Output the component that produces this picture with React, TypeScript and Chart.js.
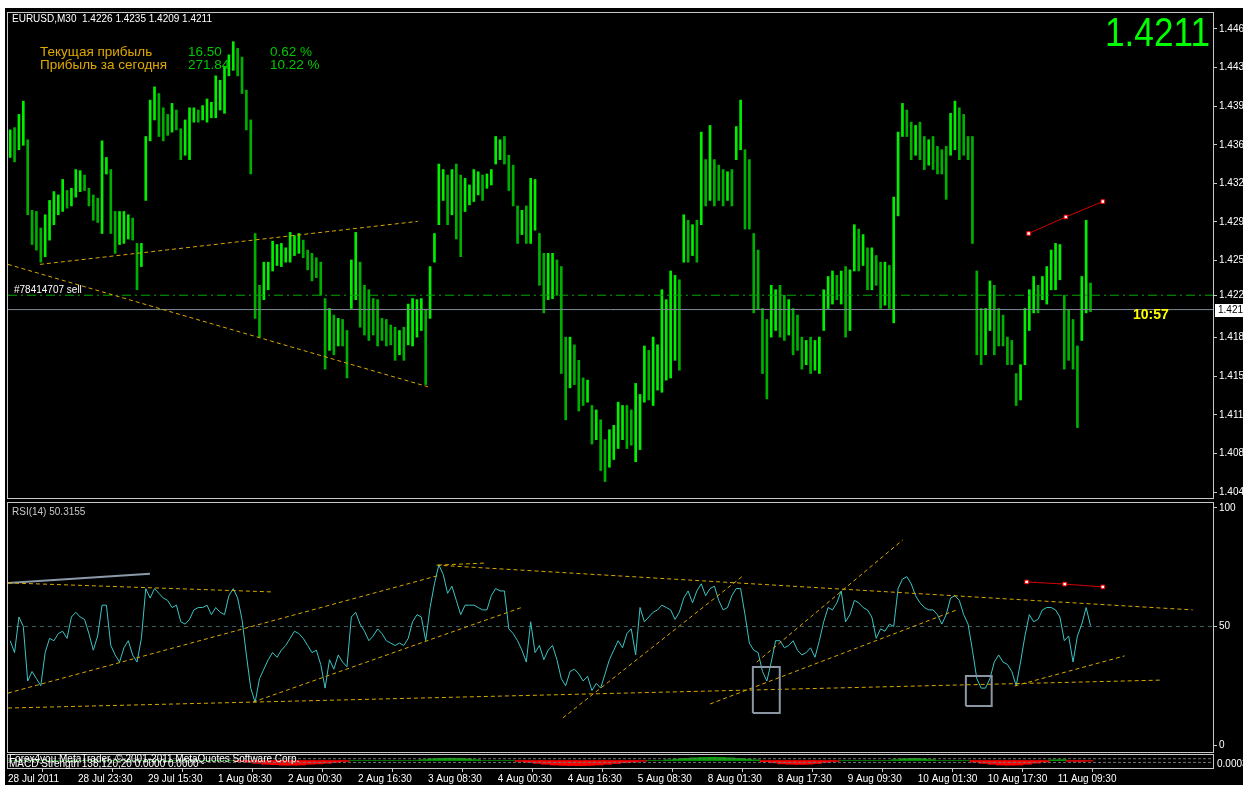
import React, { useEffect, useRef } from "react";
import { Chart, registerables } from "chart.js";
Chart.register(...registerables);

// ---------------- DATA ----------------
// EURUSD M30 bars (sampled every 2nd bar): highs and lows
const barHigh = [
  1.4374,1.4376,1.4388,1.4400,1.4365,1.4301,1.4300,1.4285,1.4297,1.4310,
  1.4318,1.4315,1.4329,1.4319,1.4321,1.4338,1.4337,1.4333,1.4321,1.4315,
  1.4312,1.4364,1.4349,1.4338,1.4300,1.4300,1.4300,1.4297,1.4294,1.4271,
  1.4271,1.4368,1.4401,1.4413,1.4407,1.4394,1.4388,1.4398,1.4392,1.4375,
  1.4383,1.4394,1.4394,1.4392,1.4396,1.4402,1.4399,1.4423,1.4419,1.4431,
  1.4442,1.4454,1.4448,1.4440,1.4410,1.4383,1.4280,1.4233,1.4254,1.4254,
  1.4273,1.4270,1.4271,1.4267,1.4281,1.4278,1.4280,1.4274,1.4265,1.4262,
  1.4258,1.4254,1.4221,1.4212,1.4206,1.4203,1.4202,1.4192,1.4256,1.4281,
  1.4254,1.4233,1.4229,1.4221,1.4220,1.4203,1.4202,1.4197,1.4195,1.4192,
  1.4195,1.4216,1.4221,1.4220,1.4221,1.4211,1.4250,1.4280,1.4343,1.4338,
  1.4333,1.4338,1.4343,1.4333,1.4330,1.4324,1.4338,1.4336,1.4333,1.4334,
  1.4338,1.4368,1.4365,1.4368,1.4351,1.4342,1.4305,1.4301,1.4305,1.4330,
  1.4329,1.4280,1.4262,1.4262,1.4262,1.4256,1.4250,1.4186,1.4186,1.4179,
  1.4165,1.4149,1.4147,1.4124,1.4120,1.4111,1.4093,1.4102,1.4106,1.4127,
  1.4124,1.4124,1.4120,1.4144,1.4134,1.4178,1.4174,1.4186,1.4179,1.4229,
  1.4220,1.4246,1.4242,1.4238,1.4297,1.4292,1.4288,1.4292,1.4372,1.4347,
  1.4378,1.4347,1.4342,1.4338,1.4336,1.4338,1.4377,1.4401,1.4356,1.4347,
  1.4280,1.4265,1.4212,1.4202,1.4233,1.4229,1.4233,1.4224,1.4220,1.4212,
  1.4206,1.4186,1.4183,1.4186,1.4183,1.4186,1.4229,1.4241,1.4246,1.4242,
  1.4246,1.4250,1.4247,1.4288,1.4284,1.4279,1.4267,1.4267,1.4260,1.4254,
  1.4254,1.4251,1.4313,1.4372,1.4398,1.4392,1.4381,1.4378,1.4381,1.4368,
  1.4365,1.4368,1.4359,1.4356,1.4359,1.4389,1.4400,1.4394,1.4388,1.4368,
  1.4368,1.4246,1.4212,1.4212,1.4237,1.4233,1.4212,1.4206,1.4186,1.4183,
  1.4153,1.4161,1.4212,1.4229,1.4241,1.4233,1.4241,1.4250,1.4265,1.4271,
  1.4270,1.4224,1.4211,1.4202,1.4178,1.4241,1.4292,1.4235,
];
const barLow = [
  1.4349,1.4345,1.4356,1.4360,1.4297,1.4270,1.4265,1.4254,1.4259,1.4274,
  1.4288,1.4297,1.4300,1.4303,1.4305,1.4313,1.4318,1.4319,1.4305,1.4292,
  1.4290,1.4280,1.4334,1.4280,1.4262,1.4270,1.4271,1.4275,1.4274,1.4229,
  1.4250,1.4310,1.4364,1.4383,1.4368,1.4364,1.4369,1.4372,1.4374,1.4347,
  1.4351,1.4347,1.4381,1.4381,1.4383,1.4381,1.4385,1.4385,1.4392,1.4389,
  1.4423,1.4428,1.4423,1.4407,1.4374,1.4334,1.4203,1.4186,1.4220,1.4229,
  1.4246,1.4251,1.4250,1.4254,1.4254,1.4260,1.4262,1.4258,1.4247,1.4237,
  1.4240,1.4224,1.4157,1.4174,1.4170,1.4178,1.4178,1.4149,1.4212,1.4220,
  1.4195,1.4188,1.4183,1.4188,1.4178,1.4183,1.4178,1.4179,1.4165,1.4170,
  1.4165,1.4179,1.4178,1.4186,1.4192,1.4143,1.4203,1.4254,1.4288,1.4310,
  1.4288,1.4297,1.4275,1.4259,1.4300,1.4306,1.4309,1.4315,1.4310,1.4321,
  1.4324,1.4343,1.4347,1.4343,1.4319,1.4305,1.4271,1.4279,1.4271,1.4271,
  1.4283,1.4233,1.4208,1.4220,1.4221,1.4224,1.4153,1.4111,1.4140,1.4143,
  1.4119,1.4124,1.4127,1.4089,1.4093,1.4065,1.4055,1.4068,1.4075,1.4085,
  1.4093,1.4085,1.4088,1.4073,1.4084,1.4127,1.4129,1.4124,1.4138,1.4136,
  1.4147,1.4149,1.4165,1.4156,1.4254,1.4254,1.4260,1.4254,1.4288,1.4305,
  1.4310,1.4305,1.4310,1.4305,1.4310,1.4305,1.4347,1.4356,1.4284,1.4284,
  1.4208,1.4211,1.4153,1.4130,1.4186,1.4192,1.4186,1.4183,1.4188,1.4170,
  1.4174,1.4157,1.4161,1.4153,1.4156,1.4153,1.4192,1.4212,1.4216,1.4220,
  1.4216,1.4186,1.4192,1.4246,1.4246,1.4251,1.4229,1.4229,1.4233,1.4212,
  1.4215,1.4212,1.4199,1.4296,1.4368,1.4368,1.4347,1.4351,1.4347,1.4338,
  1.4342,1.4338,1.4334,1.4334,1.4311,1.4351,1.4356,1.4347,1.4351,1.4347,
  1.4271,1.4170,1.4161,1.4170,1.4192,1.4170,1.4178,1.4178,1.4161,1.4161,
  1.4124,1.4129,1.4161,1.4192,1.4208,1.4208,1.4220,1.4216,1.4229,1.4229,
  1.4238,1.4157,1.4165,1.4157,1.4104,1.4183,1.4208,1.4209,
];
// RSI(14) at the same bars
const rsiValues = [
  44,39,54,50,27,31,28,25,39,45,
  44,47,48,45,54,56,54,53,47,40,
  46,59,59,42,38,35,41,44,38,35,
  45,66,62,66,64,62,61,58,59,52,
  51,53,57,58,58,59,55,58,56,55,
  63,66,62,53,38,24,18,28,32,36,
  39,37,40,42,45,48,47,45,42,39,
  40,34,24,36,32,38,35,33,54,56,
  51,48,44,46,49,47,44,43,42,43,
  42,45,52,55,54,44,58,68,76,72,
  64,67,61,55,59,59,59,58,57,57,
  63,66,65,65,49,47,44,40,35,52,
  39,42,36,40,42,36,28,25,31,32,
  30,27,29,23,26,24,30,36,40,44,
  41,47,49,38,58,52,54,56,57,59,
  58,57,53,56,62,65,60,65,68,63,
  66,67,61,57,58,63,66,66,55,43,
  40,39,31,27,35,44,44,41,42,44,
  40,38,39,41,37,44,52,58,57,60,
  65,52,55,61,60,58,57,54,45,49,
  48,51,50,66,70,71,68,63,60,58,
  57,57,55,51,55,62,63,61,55,51,
  40,28,24,24,28,35,38,35,34,31,
  25,35,46,55,52,53,57,58,58,57,
  54,44,46,35,46,51,58,50.3155,
];
// MACD Strength histogram (one value every 4 bars)
const macdStrength = [
  0,0,0,0,0,0,0,0,0,0,0,0,0,0,0,0,0,0,0,0,0,0,0,0,0,0,
  -0.00005,-0.0001,-0.00015,-0.0002,-0.00022,-0.00025,-0.00025,-0.00024,-0.0002,-0.00018,-0.00015,-0.0001,-0.00005,
  0,0,0,0,0,0,0,0,
  0.00005,0.0001,0.00012,0.00013,0.00012,0.0001,0.00005,
  0,0,0,0,
  -0.00005,-0.0001,-0.00015,-0.0002,-0.00024,-0.00026,-0.00027,-0.00027,-0.00026,-0.00024,-0.0002,-0.00016,-0.00012,-0.00008,-0.00004,
  0,0,
  0.00004,0.00008,0.00012,0.00015,0.00017,0.00018,0.00017,0.00015,0.00012,0.00008,0.00004,
  -0.00006,-0.00012,-0.00018,-0.0002,-0.00021,-0.0002,-0.00016,-0.0001,-0.00005,
  0,0,0,0,0,0,
  0.00005,0.0001,0.00012,0.0001,0.00005,
  0,0,0,0,
  -0.00008,-0.00015,-0.0002,-0.00024,-0.00025,-0.00024,-0.0002,-0.00014,-0.00008,
  0.00004,0.00005,
  -0.00004,-0.00005,-0.00003,
];
const timeLabels = [
  "28 Jul 2011","28 Jul 23:30","29 Jul 15:30","1 Aug 08:30","2 Aug 00:30","2 Aug 16:30",
  "3 Aug 08:30","4 Aug 00:30","4 Aug 16:30","5 Aug 08:30","8 Aug 01:30","8 Aug 17:30",
  "9 Aug 09:30","10 Aug 01:30","10 Aug 17:30","11 Aug 09:30",
];
const labelEvery = 32; // bars between time labels
const priceTickBase = 1.40455;
const priceTickStep = 0.0035;
const priceTickCount = 13;
const currentPrice = 1.4211;
const sellPrice = 1.4224;
const rsiTicks = [0, 50, 100];
const rsiLevel = 50;
const stripAxisText = "0.0003";
// chart objects: [barIndex, value]
const priceTrendLines = [
  [[0, 1.4252], [192, 1.4141]],
  [[14.6, 1.4252], [187.4, 1.4291]],
];
const priceRedLine = [[466.7, 1.428], [483.7, 1.4295], [500.6, 1.4309]];
const rsiTrendLines = [
  [[0, 68.4], [120.2, 64.6]],
  [[0, 21.9], [197.5, 71.7]],
  [[196.6, 75.9], [219, 76.8]],
  [[0, 15.6], [528, 27.4]],
  [[112, 18.1], [235.4, 58.2]],
  [[196, 75.9], [541.7, 57.0]],
  [[253.7, 11.4], [336, 71.3]],
  [[321, 17.3], [433.8, 57.0]],
  [[342.4, 35.0], [409.1, 86.5]],
  [[460.3, 24.9], [510.6, 37.6]],
];
const rsiGreyLine = [[0, 68.4], [64.9, 72.2]];
const rsiBoxes = [
  [340.6, 352.9, 13.5, 32.9],
  [438, 449.8, 16.5, 29.1],
];
const rsiRedLine = [[465.8, 68.8], [483.2, 67.9], [500.6, 66.7]];
const headerText = "EURUSD,M30  1.4226 1.4235 1.4209 1.4211";
const profitRows = [
  ["Текущая прибыль", "16.50", "0.62 %"],
  ["Прибыль за сегодня", "271.84", "10.22 %"],
];
const orderLabel = "#78414707 sell";
const timerText = "10:57";
const rsiTitle = "RSI(14) 50.3155";

// ---------------- STYLE ----------------
const X_MAX = 551;
const FONT = '"Liberation Sans", Arial, sans-serif';
const GOLD = "#d8a800";
const FRAME = "#c8c8c8";

const barX = (k: number) => 2 * k + 1;
const trunc3 = (v: number) => (Math.floor(v * 1000 + 1e-6) / 1000).toFixed(3);
const pts = (arr: number[][]) => arr.map(([x, y]) => ({ x, y }));

const lineDs = (data: any[], color: string, dash: number[] = [], width = 1, extra: any = {}) => ({
  type: "line",
  data,
  borderColor: color,
  borderWidth: width,
  borderDash: dash,
  pointRadius: 0,
  fill: false,
  tension: 0,
  order: 1,
  ...extra,
});

const fixedRightAxis = (extra: any) => ({
  position: "right",
  afterFit: (s: any) => {
    s.width = 30;
    s.paddingTop = 0;
    s.paddingBottom = 0;
  },
  grid: { drawOnChartArea: false, drawTicks: true, tickLength: 4, color: FRAME },
  border: { display: true, color: FRAME },
  ...extra,
});

const frameBorder = (ctx: any, a: any) => {
  ctx.strokeStyle = FRAME;
  ctx.lineWidth = 1;
  ctx.strokeRect(a.left - 0.5, a.top - 0.5, a.right - a.left + 1, a.bottom - a.top + 1);
};

const baseOptions = (padding: any) => ({
  animation: false,
  responsive: false,
  devicePixelRatio: 1,
  events: [],
  layout: { autoPadding: false, padding },
  plugins: { legend: { display: false }, tooltip: { enabled: false } },
});

function mainConfig(): any {
  const bars = barHigh.map((h, k) => ({ x: barX(k), y: [barLow[k], h] }));
  const colors = barHigh.map((h, k) =>
    k > 0 && h + barLow[k] < barHigh[k - 1] + barLow[k - 1] ? "#00b000" : "#00f000"
  );
  const overlay = {
    id: "mainOverlay",
    afterDraw(chart: any) {
      const { ctx, chartArea: a, scales } = chart;
      ctx.save();
      frameBorder(ctx, a);
      ctx.textBaseline = "middle";
      ctx.textAlign = "left";
      ctx.font = `10px ${FONT}`;
      ctx.fillStyle = "#ffffff";
      ctx.fillText(headerText, 12, 19);
      ctx.font = `13.5px ${FONT}`;
      profitRows.forEach((r, i) => {
        const y = 52 + i * 13.5;
        ctx.fillStyle = "#e0a800";
        ctx.fillText(r[0], 40, y);
        ctx.fillStyle = "#00c800";
        ctx.fillText(r[1], 188, y);
        ctx.fillText(r[2], 270, y);
      });
      // big price
      ctx.save();
      ctx.font = `40px ${FONT}`;
      ctx.fillStyle = "#00ff00";
      ctx.textBaseline = "alphabetic";
      ctx.textAlign = "right";
      const w = ctx.measureText(currentPrice.toFixed(4)).width;
      ctx.translate(1210, 46);
      ctx.scale(105 / w, 1);
      ctx.fillText(currentPrice.toFixed(4), 0, 0);
      ctx.restore();
      // order label
      ctx.font = `10px ${FONT}`;
      ctx.fillStyle = "#ffffff";
      ctx.fillText(orderLabel, 14, 290);
      // timer
      ctx.font = `bold 14px ${FONT}`;
      ctx.fillStyle = "#ffff00";
      ctx.fillText(timerText, 1133, 315);
      // current price box
      const yp = Math.round(scales.y.getPixelForValue(currentPrice));
      ctx.fillStyle = "#ffffff";
      ctx.fillRect(a.right + 2, yp - 6, 30, 13);
      ctx.fillStyle = "#000000";
      ctx.font = `10px ${FONT}`;
      ctx.fillText(trunc3(currentPrice), a.right + 5, yp + 0.5);
      ctx.restore();
    },
  };
  const datasets: any[] = [
    {
      type: "bar",
      data: bars,
      backgroundColor: colors,
      borderWidth: 0,
      barThickness: 2,
      order: 10,
    },
    lineDs(
      [{ x: 0, y: sellPrice }, { x: X_MAX, y: sellPrice }],
      "#00a800",
      [9, 4, 2, 4],
      1,
      { order: 5 }
    ),
    lineDs(
      [{ x: 0, y: currentPrice }, { x: X_MAX, y: currentPrice }],
      "#7f8a96",
      [],
      1,
      { order: 5 }
    ),
    ...priceTrendLines.map((l) => lineDs(pts(l), GOLD, [4, 3])),
    lineDs(pts(priceRedLine), "#d00000", [], 1, {
      pointRadius: 2.5,
      pointStyle: "rect",
      pointBackgroundColor: "#ffffff",
      pointBorderColor: "#ff0000",
      pointBorderWidth: 1,
      order: 0,
    }),
  ];
  return {
    type: "bar",
    data: { datasets },
    plugins: [overlay],
    options: {
      ...baseOptions({ left: 8, top: 13, right: 0, bottom: 2 }),
      scales: {
        x: { type: "linear", min: 0, max: X_MAX, offset: false, display: false },
        y: fixedRightAxis({
          min: 1.40401,
          max: 1.448,
          afterBuildTicks: (s: any) => {
            const t: any[] = [];
            for (let k = 0; k < priceTickCount; k++) {
              const v = priceTickBase + k * priceTickStep;
              if (Math.abs(v - currentPrice) > 0.0012) t.push({ value: v });
            }
            t.push({ value: sellPrice });
            s.ticks = t;
          },
          ticks: {
            color: "#ffffff",
            padding: 2,
            font: { family: FONT, size: 10 },
            callback: (v: any) => trunc3(Number(v)),
          },
        }),
      },
    },
  };
}

function rsiConfig(): any {
  const overlay = {
    id: "rsiOverlay",
    afterDraw(chart: any) {
      const { ctx, chartArea: a } = chart;
      ctx.save();
      frameBorder(ctx, a);
      ctx.font = `10px ${FONT}`;
      ctx.fillStyle = "#c8c8c8";
      ctx.textBaseline = "middle";
      ctx.fillText(rsiTitle, 12, 12);
      ctx.restore();
    },
  };
  const datasets: any[] = [
    lineDs(pts(rsiRedLine), "#d00000", [], 1, {
      pointRadius: 2.5,
      pointStyle: "rect",
      pointBackgroundColor: "#ffffff",
      pointBorderColor: "#ff0000",
      pointBorderWidth: 1,
      order: 0,
    }),
    ...rsiBoxes.map(([x0, x1, y0, y1]) =>
      lineDs(
        [{ x: x0, y: y0 }, { x: x1, y: y0 }, { x: x1, y: y1 }, { x: x0, y: y1 }, { x: x0, y: y0 }],
        "#8a96a4",
        [],
        2,
        { order: 1 }
      )
    ),
    ...rsiTrendLines.map((l) => lineDs(pts(l), GOLD, [4, 3], 1, { order: 2 })),
    lineDs(pts(rsiGreyLine), "#8a9aaa", [], 2, { order: 2 }),
    lineDs(
      rsiValues.map((v, k) => ({ x: barX(k), y: v })),
      "#3cc4c4",
      [],
      1,
      { order: 3 }
    ),
    lineDs(
      [{ x: 0, y: rsiLevel }, { x: X_MAX, y: rsiLevel }],
      "#3d5f5f",
      [4, 4],
      1,
      { order: 4 }
    ),
  ];
  return {
    type: "line",
    data: { datasets },
    plugins: [overlay],
    options: {
      ...baseOptions({ left: 8, top: 3, right: 0, bottom: 1 }),
      scales: {
        x: { type: "linear", min: 0, max: X_MAX, display: false },
        y: fixedRightAxis({
          min: -2.95,
          max: 102.1,
          afterBuildTicks: (s: any) => {
            s.ticks = rsiTicks.map((v) => ({ value: v }));
          },
          ticks: {
            color: "#ffffff",
            padding: 2,
            font: { family: FONT, size: 10 },
            callback: (v: any) => String(v),
          },
        }),
      },
    },
  };
}

function stripConfig(): any {
  const overlay = {
    id: "stripOverlay",
    afterDraw(chart: any) {
      const { ctx, chartArea: a } = chart;
      ctx.save();
      frameBorder(ctx, a);
      ctx.font = `10px ${FONT}`;
      ctx.fillStyle = "#ffffff";
      ctx.textBaseline = "middle";
      ctx.fillText("Forex4you MetaTrader, © 2001-2011 MetaQuotes Software Corp.", 9, 6);
      ctx.fillText("MACD Strength 138,120,20 0.0000 0.0000", 9, 11);
      ctx.fillText(stripAxisText, a.right + 4, 11);
      ctx.restore();
    },
  };
  const bars = macdStrength.map((v, m) => ({ x: 4 * m + 2, y: [0, v] }));
  const datasets: any[] = [
    {
      type: "bar",
      data: bars,
      backgroundColor: macdStrength.map((v) => (v < 0 ? "#ff0000" : "#00a000")),
      borderWidth: 0,
      barThickness: 9,
      order: 5,
    },
    lineDs([{ x: 0, y: 0.0001 }, { x: X_MAX, y: 0.0001 }], "#707070", [3, 2], 1, { order: 1 }),
    lineDs([{ x: 0, y: -0.0001 }, { x: X_MAX, y: -0.0001 }], "#707070", [3, 2], 1, { order: 1 }),
  ];
  return {
    type: "bar",
    data: { datasets },
    plugins: [overlay],
    options: {
      ...baseOptions({ left: 8, top: 2, right: 0, bottom: 0 }),
      scales: {
        x: {
          type: "linear",
          min: 0,
          max: X_MAX,
          offset: false,
          afterFit: (s: any) => {
            s.height = 17;
            s.paddingLeft = 0;
            s.paddingRight = 0;
          },
          afterBuildTicks: (s: any) => {
            s.ticks = timeLabels.map((_, n) => ({ value: n * labelEvery }));
          },
          grid: { drawOnChartArea: false, drawTicks: true, tickLength: 4, color: FRAME },
          border: { display: true, color: FRAME },
          ticks: {
            color: "#ffffff",
            align: "start",
            padding: 1,
            maxRotation: 0,
            autoSkip: false,
            font: { family: FONT, size: 10 },
            callback: (v: any) => timeLabels[Math.round(Number(v) / labelEvery)] ?? "",
          },
        },
        y: fixedRightAxis({
          min: -0.0004,
          max: 0.0003,
          ticks: { display: false },
          grid: { display: false },
        }),
      },
    },
  };
}

export default function App() {
  const mainRef = useRef<HTMLCanvasElement>(null);
  const rsiRef = useRef<HTMLCanvasElement>(null);
  const stripRef = useRef<HTMLCanvasElement>(null);
  useEffect(() => {
    const charts = [
      new Chart(mainRef.current!, mainConfig()),
      new Chart(rsiRef.current!, rsiConfig()),
      new Chart(stripRef.current!, stripConfig()),
    ];
    return () => charts.forEach((c) => c.destroy());
  }, []);
  return (
    <div
      style={{
        position: "fixed",
        left: 0,
        top: 0,
        width: 1243,
        height: 785,
        background: "#ffffff",
        overflow: "hidden",
      }}
    >
      <div style={{ position: "absolute", left: 5, top: 8, width: 1238, height: 777, background: "#000" }} />
      <canvas ref={mainRef} width={1243} height={500} style={{ position: "absolute", left: 0, top: 0 }} />
      <canvas ref={rsiRef} width={1243} height={253} style={{ position: "absolute", left: 0, top: 500 }} />
      <canvas ref={stripRef} width={1243} height={32} style={{ position: "absolute", left: 0, top: 753 }} />
    </div>
  );
}
